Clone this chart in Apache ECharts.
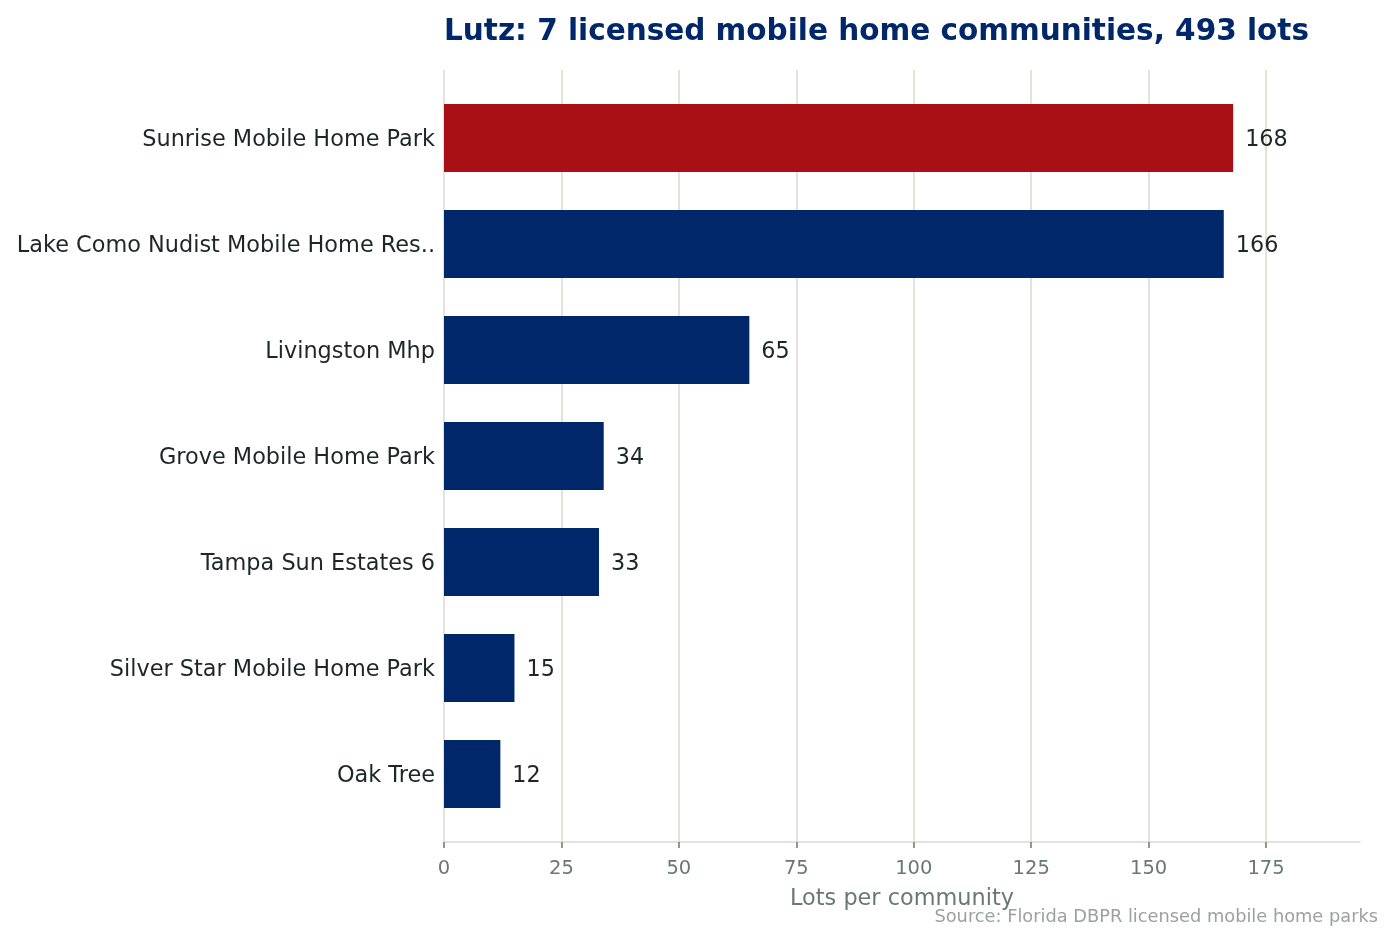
<!DOCTYPE html>
<html>
<head>
<meta charset="utf-8">
<title>Lutz mobile home communities</title>
<script src="https://cdn.jsdelivr.net/npm/echarts@6/dist/echarts.min.js"></script>
<style>
  html, body { margin: 0; padding: 0; background: #fff; }
  #chart { width: 1395px; height: 942px; }
</style>
</head>
<body>
<div id="chart"></div>
<script>
// communities, largest first
const communities = [
  'Sunrise Mobile Home Park',
  'Lake Como Nudist Mobile Home Res..',
  'Livingston Mhp',
  'Grove Mobile Home Park',
  'Tampa Sun Estates 6',
  'Silver Star Mobile Home Park',
  'Oak Tree'
]
const lots = [168, 166, 65, 34, 33, 15, 12]
const xTicks = [0, 25, 50, 75, 100, 125, 150, 175]

const navy = '#00276a'
const red = '#a81015'
const gridColor = '#ddd8d0'
const axisGray = '#6b7872'
const textDark = '#1f2626'
const font = 'DejaVu Sans'

const chart = echarts.init(document.getElementById('chart'), null, { renderer: 'canvas' })

const option = {
  backgroundColor: '#ffffff',
  animation: false,
  textStyle: { fontFamily: font },
  title: [
    {
      text: 'Lutz: 7 licensed mobile home communities, 493 lots',
      left: 444,
      top: 17,
      padding: 0,
      textStyle: { fontFamily: font, fontSize: 29.5, fontWeight: 'bold', color: navy }
    },
    {
      text: 'Source: Florida DBPR licensed mobile home parks',
      right: 17,
      top: 908,
      padding: 0,
      textStyle: { fontFamily: font, fontSize: 17.8, fontWeight: 'normal', color: '#9aa29e' }
    }
  ],
  grid: [
    // outer grid: gridlines and x axis
    { left: 444, right: 35, top: 70, bottom: 100 },
    // inner grid: bars, padded top and bottom
    { left: 444, right: 35, top: 85, bottom: 115 }
  ],
  xAxis: [
    {
      type: 'value',
      gridIndex: 0,
      min: 0,
      max: 195,
      interval: 25,
      name: 'Lots per community',
      nameLocation: 'middle',
      nameGap: 46,
      nameTextStyle: { fontFamily: font, fontSize: 22.4, color: axisGray },
      axisLine: { show: true, lineStyle: { color: gridColor, width: 1.5 } },
      axisTick: { show: true, length: 6, lineStyle: { color: axisGray, width: 1.5 }, customValues: xTicks },
      axisLabel: { fontFamily: font, fontSize: 19.5, color: axisGray, margin: 17, customValues: xTicks },
      splitLine: { show: true, lineStyle: { color: gridColor, width: 1.5 } }
    },
    {
      type: 'value',
      gridIndex: 1,
      min: 0,
      max: 195,
      show: false
    }
  ],
  yAxis: [
    {
      type: 'value',
      gridIndex: 0,
      show: false
    },
    {
      type: 'category',
      gridIndex: 1,
      inverse: true,
      data: communities,
      axisLine: { show: false },
      axisTick: { show: false },
      splitLine: { show: false },
      axisLabel: {
        margin: 9,
        formatter: v => `{n|${v}}`,
        rich: {
          n: { fontFamily: font, fontSize: 22.4, color: textDark, padding: [5, 0, 0, 0] }
        }
      }
    }
  ],
  series: [
    {
      type: 'bar',
      xAxisIndex: 1,
      yAxisIndex: 1,
      data: lots,
      barWidth: '64%',
      itemStyle: {
        color: p => (p.dataIndex === 0 ? red : navy)
      },
      label: {
        show: true,
        position: 'right',
        distance: 12,
        offset: [0, 2],
        fontFamily: font,
        fontSize: 22.3,
        color: textDark
      }
    }
  ]
}

chart.setOption(option)
</script>
</body>
</html>
